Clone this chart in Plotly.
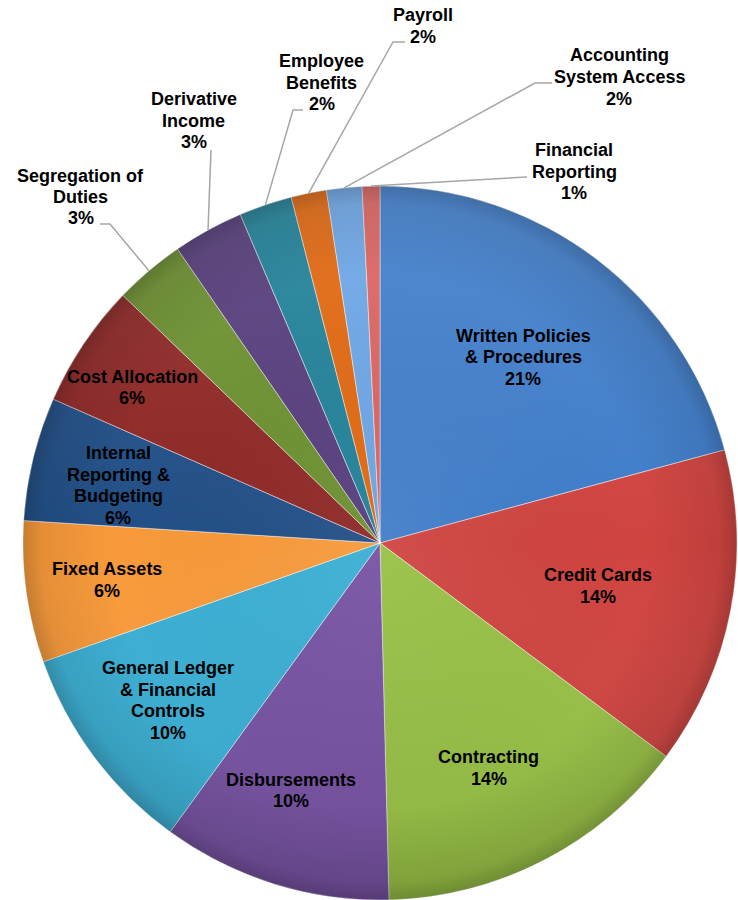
import math
import base64
import plotly.graph_objects as go

# ---------------- data ----------------
categories = [
    "Written Policies<br>& Procedures", "Credit Cards", "Contracting", "Disbursements",
    "General Ledger<br>& Financial<br>Controls", "Fixed Assets",
    "Internal<br>Reporting &<br>Budgeting", "Cost Allocation", "Segregation of<br>Duties",
    "Derivative<br>Income", "Employee<br>Benefits", "Payroll",
    "Accounting<br>System Access", "Financial<br>Reporting",
]
counts = [26, 18, 18, 13, 12, 8, 7, 7, 4, 4, 3, 2, 2, 1]
colors = [
    "#3F7DCA", "#D04440", "#98C145", "#7752A3", "#3AAFD4", "#F89A3A", "#214F87",
    "#8E2725", "#6B8F2E", "#553C7B", "#1F8098", "#E0660E", "#6AA4E4", "#D9625F",
]

# ---------------- geometry / style ----------------
W, H = 738, 900
CX, CY, R = 380, 543, 357
FONT = dict(family="Liberation Sans, Arial, sans-serif", size=18, color="black", weight="bold")
LINE_GAP = 21.5

# inside labels: (radius factor, angle nudge in degrees)
inside_style = {
    0: (0.657, 0.2), 1: (0.622, 0.4), 2: (0.700, 1.6), 3: (0.737, 2.5),
    4: (0.740, 0.1), 5: (0.773, 0.2), 6: (0.751, -1.3), 7: (0.820, -1.7),
}
# outside labels: text-block centre (px) and leader elbow points (px)
outside_style = {
    8: ((80.5, 197), [(110, 224), (100, 224)]),
    9: ((193.5, 120.5), [(211, 150)]),
    10: ((321.5, 82.5), [(293, 110), (303, 110)]),
    11: ((423, 26), [(393, 42), (405, 42)]),
    12: ((619, 77), [(535, 83), (552, 83)]),
    13: ((574, 171.5), [(527, 177)]),
}


def px(x):
    return x / W


def py(y):
    return 1 - y / H


fig = go.Figure(go.Pie(
    labels=[c.replace("<br>", " ") for c in categories],
    values=counts,
    sort=False,
    direction="clockwise",
    rotation=0,
    textinfo="none",
    hoverinfo="label+percent",
    marker=dict(colors=colors, line=dict(color="rgba(255,255,255,0.45)", width=1)),
    domain=dict(x=[px(CX - R), px(CX + R)], y=[py(CY + R), py(CY - R)]),
    showlegend=False,
))

total = sum(counts)
annotations = []
shapes = []
cum = 0
for i, (name, v) in enumerate(zip(categories, counts)):
    mid = (cum + v / 2) / total * 360.0
    cum += v
    pct = f"{round(100 * v / total)}%"
    lines = name.split("<br>") + [pct]
    if i in inside_style:
        rf, nudge = inside_style[i]
        a = math.radians(mid + nudge)
        tx = CX + rf * R * math.sin(a)
        ty = CY - rf * R * math.cos(a)
    else:
        (tx, ty), elbows = outside_style[i]
        a = math.radians(mid)
        sx = CX + R * math.sin(a)
        sy = CY - R * math.cos(a)
        pts = [(sx, sy)] + elbows
        path = "M " + " L ".join(f"{px(x):.5f},{py(y):.5f}" for x, y in pts)
        shapes.append(dict(type="path", xref="paper", yref="paper", path=path,
                           line=dict(color="#A6A6A6", width=1.5)))
    n = len(lines)
    for k, t in enumerate(lines):
        yy = ty + (k - (n - 1) / 2) * LINE_GAP
        annotations.append(dict(
            x=px(tx), y=py(yy), xref="paper", yref="paper", text=t, showarrow=False,
            xanchor="center", yanchor="middle", font=FONT,
        ))

# soft shading overlay (imitates the bevelled gradient look)
D = 2 * R
svg = (
    f"<svg xmlns='http://www.w3.org/2000/svg' width='{D}' height='{D}' viewBox='0 0 {D} {D}'>"
    "<defs>"
    "<linearGradient id='lg' x1='0' y1='0' x2='0' y2='1'>"
    "<stop offset='0' stop-color='#ffffff' stop-opacity='0.10'/>"
    "<stop offset='0.5' stop-color='#ffffff' stop-opacity='0'/>"
    "<stop offset='1' stop-color='#000000' stop-opacity='0.10'/>"
    "</linearGradient>"
    "<radialGradient id='rg' cx='0.5' cy='0.5' r='0.5'>"
    "<stop offset='0' stop-color='#ffffff' stop-opacity='0.06'/>"
    "<stop offset='0.75' stop-color='#000000' stop-opacity='0'/>"
    "<stop offset='0.95' stop-color='#000000' stop-opacity='0.08'/>"
    "<stop offset='1' stop-color='#000000' stop-opacity='0.20'/>"
    "</radialGradient>"
    "</defs>"
    f"<circle cx='{R}' cy='{R}' r='{R}' fill='url(#lg)'/>"
    f"<circle cx='{R}' cy='{R}' r='{R}' fill='url(#rg)'/>"
    "</svg>"
)
src = "data:image/svg+xml;base64," + base64.b64encode(svg.encode()).decode()

fig.update_layout(
    width=W, height=H,
    margin=dict(l=0, r=0, t=0, b=0),
    paper_bgcolor="white", plot_bgcolor="white",
    annotations=annotations,
    shapes=shapes,
    images=[dict(source=src, xref="paper", yref="paper", x=px(CX - R), y=py(CY - R),
                 sizex=D / W, sizey=D / H, xanchor="left", yanchor="top",
                 sizing="stretch", layer="above")],
)

fig.write_html("out.html")
